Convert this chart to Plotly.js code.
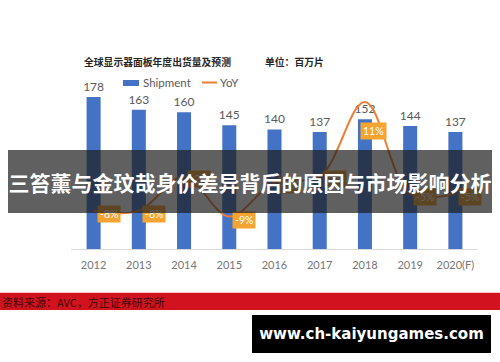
<!DOCTYPE html>
<html>
<head>
<meta charset="utf-8">
<script src="https://cdn.plot.ly/plotly-3.0.1.min.js"></script>
<style>html,body{margin:0;padding:0;background:#fff;}#chart{width:500px;height:362px;}</style>
</head>
<body>
<div id="chart"></div>
<script>
// ---- data ----
var years = ['2012','2013','2014','2015','2016','2017','2018','2019','2020(F)'];
var shipment = [178,163,160,145,140,137,152,144,137];
var yoy = [-8,-8,-2,-9,-3,-2,11,-5,-5];
var yoyLabels = ['-8%','-8%','-2%','-9%','-3%','-2%','11%','-5%','-5%'];
var chartTitle = '全球显示器面板年度出货量及预测';
var unitText = '单位：百万片';
var bannerText = '三笞薰与金玟哉身价差异背后的原因与市场影响分析';
var sourceText = '资料来源：AVC，方正证券研究所';
var watermark = 'www.ch-kaiyungames.com';

// ---- geometry helpers (plot area 71..478 x 90..249 px) ----
var L = 71, R = 478, T = 90, B = 249;
function px(x){ return (x - L) / (R - L); }
function py(y){ return (B - y) / (B - T); }

var latin = 'Lato, "Noto Sans CJK SC", sans-serif';
var cjk = '"Noto Sans CJK SC", sans-serif';

var traces = [
  {
    type: 'bar', x: years, y: shipment, name: 'Shipment',
    marker: {color: '#4472C4'},
    text: shipment.map(String), textposition: 'outside', constraintext: 'none',
    textfont: {family: latin, size: 12, color: '#595959'},
    cliponaxis: false, hoverinfo: 'none'
  },
  {
    type: 'scatter', mode: 'lines', x: years, y: yoy, name: 'YoY', yaxis: 'y2',
    line: {color: '#ED7D31', width: 2, shape: 'spline', smoothing: 1},
    hoverinfo: 'none', cliponaxis: false
  }
];

var annotations = [];
// YoY label boxes (x given as category index)
for (var i = 0; i < yoy.length; i++) {
  var special = yoy[i] > 5;
  annotations.push({
    x: i, y: yoy[i], xref: 'x', yref: 'y2',
    text: yoyLabels[i], showarrow: false,
    xshift: special ? 9 : 15, yshift: special ? -29 : -3,
    bgcolor: '#F5A431', borderpad: 2,
    font: {family: latin, size: 10.5, color: '#ffffff'}
  });
}
// title + unit
annotations.push({x: px(82), y: py(62), xref: 'paper', yref: 'paper', xanchor: 'left', yanchor: 'middle',
  text: '<b>' + chartTitle + '</b>', showarrow: false, font: {family: cjk, size: 9.8, color: '#262626'}});
annotations.push({x: px(263), y: py(62), xref: 'paper', yref: 'paper', xanchor: 'left', yanchor: 'middle',
  text: '<b>' + unitText + '</b>', showarrow: false, font: {family: cjk, size: 9.8, color: '#262626'}});
// legend texts
annotations.push({x: px(141), y: py(82), xref: 'paper', yref: 'paper', xanchor: 'left', yanchor: 'middle',
  text: 'Shipment', showarrow: false, font: {family: latin, size: 11.5, color: '#595959'}});
annotations.push({x: px(218), y: py(82), xref: 'paper', yref: 'paper', xanchor: 'left', yanchor: 'middle',
  text: 'YoY', showarrow: false, font: {family: latin, size: 11.5, color: '#595959'}});
// source text on red band
annotations.push({x: px(0), y: py(301.5), xref: 'paper', yref: 'paper', xanchor: 'left', yanchor: 'middle',
  text: sourceText, showarrow: false, font: {family: cjk, size: 11, color: '#3a0a0c'}});
// banner (drawn above the YoY labels)
annotations.push({x: px(250), y: py(181.5), xref: 'paper', yref: 'paper', xanchor: 'center', yanchor: 'middle',
  text: '<b>' + bannerText + '</b>', showarrow: false, width: 484, height: 63, borderpad: 0, borderwidth: 0,
  bgcolor: 'rgba(28,28,30,0.7)', font: {family: cjk, size: 21, color: '#ffffff'}});
// watermark
annotations.push({x: px(371.5), y: py(334), xref: 'paper', yref: 'paper', xanchor: 'center', yanchor: 'middle',
  text: '<b>' + watermark + '</b>', showarrow: false, width: 239, height: 38, borderpad: 0, borderwidth: 0,
  bgcolor: '#000000', font: {family: '"DejaVu Sans", sans-serif', size: 15, color: '#ffffff'}});

var shapes = [
  // legend symbols
  {type: 'rect', xref: 'paper', yref: 'paper', x0: px(123), x1: px(139), y0: py(80), y1: py(86),
   fillcolor: '#4472C4', line: {width: 0}},
  {type: 'line', xref: 'paper', yref: 'paper', x0: px(202), x1: px(217), y0: py(82.5), y1: py(82.5),
   line: {color: '#ED7D31', width: 2}},
  // red source band
  {type: 'rect', xref: 'paper', yref: 'paper', x0: px(0), x1: px(500), y0: py(292.7), y1: py(310),
   fillcolor: '#D3121F', line: {width: 0}, layer: 'below'}
];

var layout = {
  width: 500, height: 362,
  margin: {l: L, r: 500 - R, t: T, b: 362 - B, pad: 0},
  paper_bgcolor: '#ffffff', plot_bgcolor: '#ffffff',
  showlegend: false,
  bargap: 0.69,
  xaxis: {
    type: 'category', range: [-0.5, years.length - 0.5], autorange: false,
    showgrid: false, zeroline: false,
    showline: true, linecolor: '#D9D9D9', linewidth: 1,
    ticks: '', ticklabelstandoff: 6,
    tickfont: {family: latin, size: 11, color: '#767676'}
  },
  yaxis: {range: [0, 186.2], autorange: false, showgrid: false, zeroline: false, showticklabels: false, showline: false, ticks: ''},
  yaxis2: {range: [-14.66, 13.09], autorange: false, overlaying: 'y', side: 'right', showgrid: false, zeroline: false,
           showticklabels: false, showline: false, ticks: ''},
  annotations: annotations,
  shapes: shapes
};

Plotly.newPlot('chart', traces, layout, {displayModeBar: false, staticPlot: true});
</script>
</body>
</html>
